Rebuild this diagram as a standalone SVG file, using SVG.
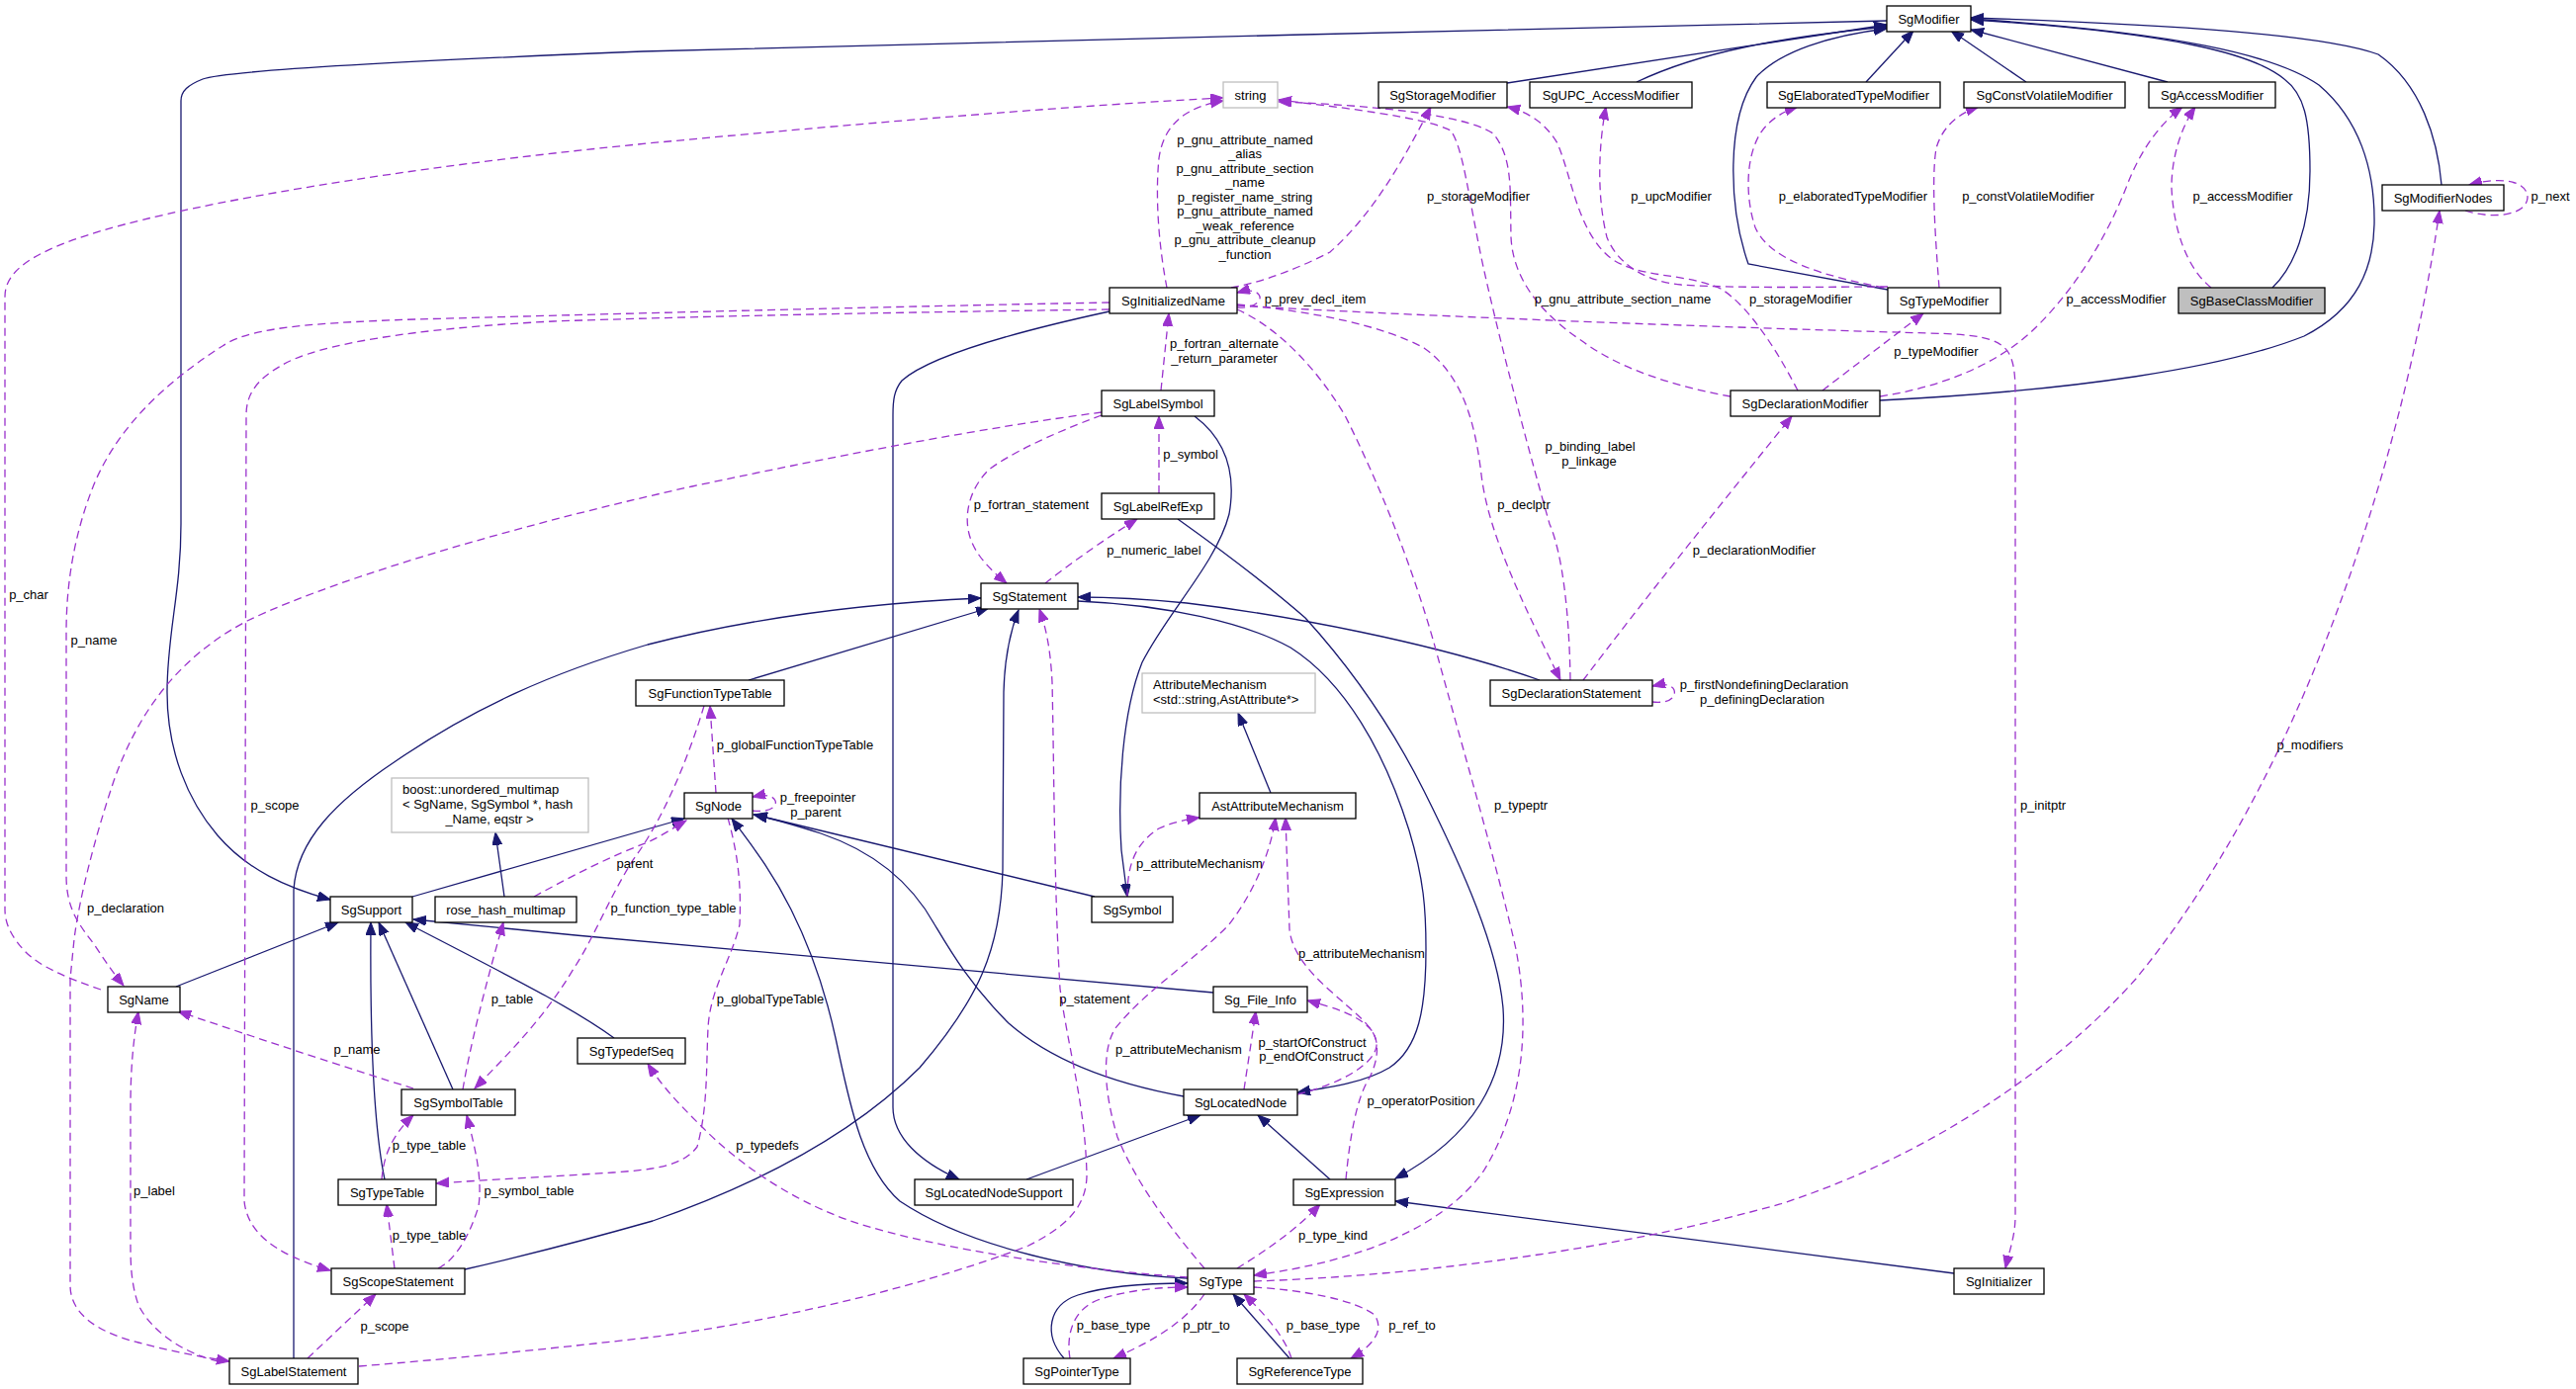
<svg xmlns="http://www.w3.org/2000/svg" width="2605" height="1405" viewBox="0 0 2605 1405">
<style>
text{font-family:"Liberation Sans",Arial,Helvetica,sans-serif;font-size:13px;fill:#000}
.n rect{fill:#fff;stroke:#000;stroke-width:1.3}
.n.g rect{stroke:#bfbfbf}
.n.s rect{fill:#bfbfbf}
.n text{text-anchor:middle}
.n text.lft{text-anchor:start}
.e{fill:none;stroke:#191970;stroke-width:1.3;marker-end:url(#an)}
.m{fill:none;stroke:#9a32cd;stroke-width:1.3;stroke-dasharray:8,5;marker-end:url(#am)}
.lb text{text-anchor:middle}
</style>
<defs>
<marker id="an" markerWidth="14" markerHeight="11" refX="13" refY="5" orient="auto" markerUnits="userSpaceOnUse"><path d="M0,0 L13,5 L0,10 z" fill="#191970" stroke="#191970"/></marker>
<marker id="am" markerWidth="14" markerHeight="11" refX="13" refY="5" orient="auto" markerUnits="userSpaceOnUse"><path d="M0,0 L13,5 L0,10 z" fill="#9a32cd" stroke="#9a32cd"/></marker>
</defs>
<rect width="2605" height="1405" fill="#fff"/>

<g id="connectors">
<!-- inheritance -->
<path class="e" d="M1908,21 C1600,28 900,45 650,52 C450,60 230,70 205,80 C190,86 183,92 183,102 L183,530 C183,600 169,640 169,700 C169,760 190,810 220,845 C250,880 290,898 334,910"/>
<path class="e" d="M1524,84 L1908,25"/>
<path class="e" d="M1655,83 C1720,52 1800,38 1908,27"/>
<path class="e" d="M1909,293 L1768,267 C1748,210 1745,120 1776,78 C1800,52 1850,36 1908,29"/>
<path class="e" d="M1887,83 L1935,31"/>
<path class="e" d="M2049,83 L1973,31"/>
<path class="e" d="M2192,83 L1993,30"/>
<path class="e" d="M2298,291 C2320,270 2336,230 2336,173 C2336,120 2330,95 2310,80 C2280,55 2200,33 1993,20"/>
<path class="e" d="M1901,405 C2100,395 2250,372 2330,340 C2385,312 2400,270 2401,227 C2402,170 2385,120 2345,86 C2300,55 2200,33 1993,19"/>
<path class="e" d="M2469,187 C2465,140 2448,85 2405,55 C2350,35 2200,25 1993,18"/>
<path class="e" d="M178,998 L342,933"/>
<path class="e" d="M458,1102 L383,933"/>
<path class="e" d="M389,1193 C378,1140 374,1050 375,933"/>
<path class="e" d="M621,1050 C580,1020 520,990 410,933"/>
<path class="e" d="M1227,1004 C1000,985 700,958 418,930"/>
<path class="e" d="M417,907 L692,828"/>
<path class="e" d="M510,907 L501,842"/>
<path class="e" d="M757,688 L1000,615"/>
<path class="e" d="M297,1374 L297,900 C300,850 340,810 400,770 C480,715 560,680 655,652 C760,625 880,610 992,605"/>
<path class="e" d="M470,1284 C540,1268 600,1252 660,1235 C760,1200 860,1150 930,1080 C990,1010 1012,960 1014,880 L1015,700 C1016,660 1023,635 1030,617"/>
<path class="e" d="M1557,688 C1450,650 1300,622 1200,610 C1150,605 1120,604 1090,604"/>
<path class="e" d="M1090,608 C1180,612 1260,630 1305,655 C1360,690 1400,760 1425,840 C1440,890 1442,920 1442,960 C1442,1020 1435,1060 1405,1080 C1380,1095 1345,1100 1312,1105"/>
<path class="e" d="M1191,525 C1240,560 1280,590 1320,625 C1370,680 1410,740 1440,800 C1480,880 1515,960 1520,1020 C1525,1090 1490,1150 1411,1192"/>
<path class="e" d="M1122,315 C1030,335 940,360 912,385 C904,395 903,405 903,420 L903,1120 C903,1150 930,1175 970,1193"/>
<path class="e" d="M1038,1193 L1214,1128"/>
<path class="e" d="M1197,1109 C1120,1095 1060,1070 1020,1035 C980,995 960,960 945,935 C920,890 880,860 830,843 C805,835 785,829 762,824"/>
<path class="e" d="M1107,907 L763,824"/>
<path class="e" d="M1201,1293 C1100,1288 980,1262 910,1215 C870,1180 858,1110 845,1050 C832,990 815,950 800,920 C780,880 760,855 740,828"/>
<path class="e" d="M1345,1193 L1272,1128"/>
<path class="e" d="M1976,1288 L1411,1215"/>
<path class="e" d="M1208,421 C1240,445 1250,480 1243,520 C1230,570 1180,620 1155,670 C1135,720 1130,800 1134,860 L1140,907"/>
<path class="e" d="M1285,802 L1252,721"/>
<path class="e" d="M1076,1374 C1055,1350 1060,1320 1090,1310 C1120,1300 1160,1298 1201,1298"/>
<path class="e" d="M1304,1374 L1247,1309"/>

<!-- members -->
<path class="m" d="M102,1001 C70,990 40,978 25,962 C12,948 5,935 5,920 L5,300 C5,275 30,255 104,233 C200,205 400,170 655,145 C900,122 1100,106 1237,99"/>
<path class="m" d="M1122,306 C900,310 600,318 420,323 C300,327 250,333 225,350 C170,385 120,430 95,490 C75,540 67,590 67,640 L67,885 C67,920 80,935 95,955 C105,970 115,985 125,997"/>
<path class="m" d="M1122,313 C900,316 700,320 560,325 C420,332 320,348 284,370 C258,385 249,400 249,420 L247,1215 C250,1245 275,1268 334,1285"/>
<path class="m" d="M1180,291 C1172,250 1168,200 1172,160 C1177,125 1200,108 1237,102"/>
<path class="m" d="M1245,291 C1280,285 1320,268 1345,255 C1390,215 1420,160 1447,108"/>
<path class="m" d="M1251,311 C1268,312 1275,305 1274,300 C1273,295 1265,292 1251,296"/>
<path class="m" d="M1909,290 C1850,290 1760,292 1700,288 C1660,284 1635,265 1625,240 C1615,200 1616,150 1624,108"/>
<path class="m" d="M1818,395 C1800,360 1770,310 1740,292 C1700,275 1660,282 1630,262 C1595,235 1590,180 1575,145 C1560,120 1540,112 1524,108"/>
<path class="m" d="M1905,291 C1850,280 1790,265 1775,230 C1765,200 1765,160 1780,135 C1790,120 1805,112 1818,108"/>
<path class="m" d="M1961,291 C1957,240 1953,180 1958,150 C1965,125 1985,113 2001,108"/>
<path class="m" d="M2236,291 C2210,270 2198,230 2196,190 C2196,160 2205,130 2220,108"/>
<path class="m" d="M1901,401 C1960,392 2020,370 2060,330 C2100,290 2130,240 2150,190 C2165,150 2185,125 2207,108"/>
<path class="m" d="M1843,395 L1945,317"/>
<path class="m" d="M2493,213 C2520,222 2555,218 2556,200 C2556,183 2530,178 2497,187"/>
<path class="m" d="M1268,1296 C1450,1290 1650,1260 1800,1218 C1950,1170 2080,1080 2160,990 C2250,880 2320,740 2370,600 C2420,460 2450,330 2467,213"/>
<path class="m" d="M1251,309 C1400,318 1700,330 1950,337 C2000,338 2020,342 2030,355 C2037,365 2038,380 2038,400 L2038,1230 C2038,1250 2032,1265 2028,1283"/>
<path class="m" d="M1251,313 C1290,330 1330,370 1360,420 C1400,500 1430,580 1450,650 C1480,760 1515,880 1533,960 C1548,1040 1540,1120 1500,1185 C1460,1240 1380,1275 1268,1290"/>
<path class="m" d="M1251,308 C1330,315 1400,330 1440,352 C1480,380 1492,430 1498,480 C1505,540 1540,610 1578,688"/>
<path class="m" d="M1588,688 C1587,620 1580,560 1567,530 C1550,470 1520,360 1500,270 C1485,200 1480,150 1467,132 C1440,118 1350,108 1293,101"/>
<path class="m" d="M1750,401 C1700,392 1640,375 1600,345 C1555,315 1530,280 1528,240 C1527,190 1530,160 1510,135 C1480,115 1380,106 1293,103"/>
<path class="m" d="M1601,688 C1660,610 1740,510 1812,421"/>
<path class="m" d="M1671,710 C1690,712 1695,704 1693,698 C1691,693 1684,691 1671,694"/>
<path class="m" d="M1174,395 L1182,317"/>
<path class="m" d="M1172,499 L1172,421"/>
<path class="m" d="M1114,420 C1060,440 1020,460 1000,475 C980,495 975,520 980,540 C985,560 1000,575 1018,590"/>
<path class="m" d="M1057,590 C1080,572 1110,550 1150,525"/>
<path class="m" d="M724,802 L718,714"/>
<path class="m" d="M761,820 C780,822 786,815 784,810 C782,805 775,803 761,806"/>
<path class="m" d="M540,907 C580,885 620,865 655,852 C670,845 680,838 694,830"/>
<path class="m" d="M712,714 C695,770 670,830 640,870 C615,910 600,950 580,980 C550,1030 515,1065 480,1101"/>
<path class="m" d="M468,1102 C475,1060 490,1000 509,933"/>
<path class="m" d="M418,1101 C350,1080 260,1050 180,1023"/>
<path class="m" d="M386,1193 C388,1170 395,1150 418,1128"/>
<path class="m" d="M443,1283 C460,1275 475,1250 484,1220 C488,1190 480,1160 472,1128"/>
<path class="m" d="M399,1283 L391,1218"/>
<path class="m" d="M311,1374 L380,1309"/>
<path class="m" d="M221,1377 C190,1370 155,1350 140,1320 C133,1300 132,1280 132,1260 L132,1120 C132,1080 135,1050 140,1023"/>
<path class="m" d="M1114,417 C1000,432 860,458 700,492 C550,525 350,580 250,628 C180,665 140,720 115,790 C95,850 80,910 75,950 L71,990 L71,1300 C71,1330 100,1348 140,1358 C170,1366 200,1372 232,1377"/>
<path class="m" d="M736,827 C745,860 750,890 748,935 C740,970 718,1000 716,1040 C714,1080 716,1120 705,1160 C690,1180 660,1183 620,1186 C560,1190 500,1193 441,1197"/>
<path class="m" d="M1201,1292 C1100,1285 950,1265 860,1235 C790,1210 740,1170 710,1140 C690,1120 670,1100 655,1076"/>
<path class="m" d="M363,1382 C450,1375 550,1365 655,1353 C800,1335 950,1295 1040,1260 C1080,1240 1098,1220 1099,1190 C1098,1120 1080,1060 1072,1000 C1066,900 1066,780 1064,690 C1062,650 1056,630 1051,616"/>
<path class="m" d="M1140,907 C1140,880 1145,855 1172,838 C1185,832 1200,829 1213,827"/>
<path class="m" d="M1218,1283 C1190,1250 1150,1200 1130,1150 C1115,1100 1115,1060 1128,1040 C1160,1000 1210,970 1243,935 C1270,900 1285,860 1290,827"/>
<path class="m" d="M1312,1107 C1360,1095 1390,1075 1392,1058 C1393,1040 1370,1025 1345,1002 C1320,980 1306,960 1304,940 L1300,827"/>
<path class="m" d="M1361,1193 C1365,1150 1372,1110 1385,1090 C1395,1070 1395,1050 1385,1040 C1370,1025 1350,1020 1322,1012"/>
<path class="m" d="M1258,1102 L1270,1023"/>
<path class="m" d="M1082,1374 C1078,1350 1085,1325 1110,1315 C1140,1305 1170,1302 1201,1302"/>
<path class="m" d="M1218,1309 C1200,1335 1170,1355 1126,1374"/>
<path class="m" d="M1306,1374 C1300,1355 1285,1335 1258,1309"/>
<path class="m" d="M1268,1302 C1320,1305 1370,1315 1390,1330 C1400,1345 1390,1360 1366,1374"/>
<path class="m" d="M1251,1283 C1280,1265 1310,1245 1335,1218"/>

<g class="lb">
<text x="1259" y="145.5">p_gnu_attribute_named</text>
<text x="1259" y="160">_alias</text>
<text x="1259" y="174.5">p_gnu_attribute_section</text>
<text x="1259" y="189">_name</text>
<text x="1259" y="203.5">p_register_name_string</text>
<text x="1259" y="218">p_gnu_attribute_named</text>
<text x="1259" y="232.5">_weak_reference</text>
<text x="1259" y="247">p_gnu_attribute_cleanup</text>
<text x="1259" y="261.5">_function</text>
<text x="1238" y="352">p_fortran_alternate</text>
<text x="1238" y="367">_return_parameter</text>
<text x="1330" y="307">p_prev_decl_item</text>
<text x="1204" y="464">p_symbol</text>
<text x="1495" y="203">p_storageModifier</text>
<text x="1690" y="203">p_upcModifier</text>
<text x="1874" y="203">p_elaboratedTypeModifier</text>
<text x="2051" y="203">p_constVolatileModifier</text>
<text x="2268" y="203">p_accessModifier</text>
<text x="2579" y="203">p_next</text>
<text x="1641" y="307">p_gnu_attribute_section_name</text>
<text x="1821" y="307">p_storageModifier</text>
<text x="2140" y="307">p_accessModifier</text>
<text x="1958" y="359.5">p_typeModifier</text>
<text x="1608" y="456">p_binding_label</text>
<text x="1607" y="470.5">p_linkage</text>
<text x="1541" y="515">p_declptr</text>
<text x="1774" y="561">p_declarationModifier</text>
<text x="1043" y="515">p_fortran_statement</text>
<text x="1167" y="561">p_numeric_label</text>
<text x="1784" y="697">p_firstNondefiningDeclaration</text>
<text x="1782" y="712">p_definingDeclaration</text>
<text x="804" y="758">p_globalFunctionTypeTable</text>
<text x="827" y="811">p_freepointer</text>
<text x="825" y="825.5">p_parent</text>
<text x="1213" y="878">p_attributeMechanism</text>
<text x="1538" y="818.5">p_typeptr</text>
<text x="2336" y="758">p_modifiers</text>
<text x="2066" y="818.5">p_initptr</text>
<text x="29" y="606">p_char</text>
<text x="95" y="651.5">p_name</text>
<text x="278" y="818.5">p_scope</text>
<text x="127" y="923">p_declaration</text>
<text x="642" y="878">parent</text>
<text x="681" y="923">p_function_type_table</text>
<text x="518" y="1014.5">p_table</text>
<text x="361" y="1066">p_name</text>
<text x="434" y="1163">p_type_table</text>
<text x="156" y="1209">p_label</text>
<text x="535" y="1209">p_symbol_table</text>
<text x="434" y="1254">p_type_table</text>
<text x="389" y="1345.5">p_scope</text>
<text x="779" y="1014.5">p_globalTypeTable</text>
<text x="1107" y="1014.5">p_statement</text>
<text x="1192" y="1066">p_attributeMechanism</text>
<text x="1327" y="1059">p_startOfConstruct</text>
<text x="1326" y="1073">p_endOfConstruct</text>
<text x="776" y="1163">p_typedefs</text>
<text x="1126" y="1345">p_base_type</text>
<text x="1220" y="1345">p_ptr_to</text>
<text x="1377" y="969">p_attributeMechanism</text>
<text x="1437" y="1118">p_operatorPosition</text>
<text x="1348" y="1254">p_type_kind</text>
<text x="1338" y="1345">p_base_type</text>
<text x="1428" y="1345">p_ref_to</text>
</g>
</g>

<g id="SgModifier" class="n"><rect x="1908" y="6" width="85" height="26"/><text x="1950.5" y="23.5">SgModifier</text></g>
<g id="SgStorageModifier" class="n"><rect x="1394" y="83" width="130" height="26"/><text x="1459" y="100.5">SgStorageModifier</text></g>
<g id="SgUPC_AccessModifier" class="n"><rect x="1547" y="83" width="164" height="26"/><text x="1629" y="100.5">SgUPC_AccessModifier</text></g>
<g id="SgElaboratedTypeModifier" class="n"><rect x="1787" y="83" width="175" height="26"/><text x="1874.5" y="100.5">SgElaboratedTypeModifier</text></g>
<g id="SgConstVolatileModifier" class="n"><rect x="1986" y="83" width="163" height="26"/><text x="2067.5" y="100.5">SgConstVolatileModifier</text></g>
<g id="SgAccessModifier" class="n"><rect x="2173" y="83" width="128" height="26"/><text x="2237" y="100.5">SgAccessModifier</text></g>
<g id="string" class="n g"><rect x="1237" y="83" width="55" height="26"/><text x="1264.5" y="100.5">string</text></g>
<g id="SgModifierNodes" class="n"><rect x="2409" y="187" width="123" height="26"/><text x="2470.5" y="204.5">SgModifierNodes</text></g>
<g id="SgInitializedName" class="n"><rect x="1122" y="291" width="129" height="26"/><text x="1186.5" y="308.5">SgInitializedName</text></g>
<g id="SgTypeModifier" class="n"><rect x="1909" y="291" width="114" height="26"/><text x="1966" y="308.5">SgTypeModifier</text></g>
<g id="SgBaseClassModifier" class="n s"><rect x="2203" y="291" width="148" height="26"/><text x="2277" y="308.5">SgBaseClassModifier</text></g>
<g id="SgLabelSymbol" class="n"><rect x="1114" y="395" width="114" height="26"/><text x="1171" y="412.5">SgLabelSymbol</text></g>
<g id="SgDeclarationModifier" class="n"><rect x="1750" y="395" width="151" height="26"/><text x="1825.5" y="412.5">SgDeclarationModifier</text></g>
<g id="SgLabelRefExp" class="n"><rect x="1114" y="499" width="114" height="26"/><text x="1171" y="516.5">SgLabelRefExp</text></g>
<g id="SgStatement" class="n"><rect x="992" y="590" width="98" height="26"/><text x="1041" y="607.5">SgStatement</text></g>
<g id="SgFunctionTypeTable" class="n"><rect x="643" y="688" width="150" height="26"/><text x="718" y="705.5">SgFunctionTypeTable</text></g>
<g id="SgDeclarationStatement" class="n"><rect x="1507" y="688" width="164" height="26"/><text x="1589" y="705.5">SgDeclarationStatement</text></g>
<g id="AttributeMechanism" class="n g"><rect x="1155" y="681" width="175" height="40"/><text class="lft" x="1166" y="697">AttributeMechanism</text><text class="lft" x="1166" y="712">&lt;std::string,AstAttribute*&gt;</text></g>
<g id="SgNode" class="n"><rect x="692" y="802" width="69" height="26"/><text x="726.5" y="819.5">SgNode</text></g>
<g id="AstAttributeMechanism" class="n"><rect x="1213" y="802" width="158" height="26"/><text x="1292" y="819.5">AstAttributeMechanism</text></g>
<g id="boost_unordered_multimap" class="n g"><rect x="396" y="787" width="199" height="55"/><text class="lft" x="407" y="802.8">boost::unordered_multimap</text><text class="lft" x="407" y="817.8">&lt; SgName, SgSymbol *, hash</text><text x="495" y="832.8">_Name, eqstr &gt;</text></g>
<g id="SgSupport" class="n"><rect x="334" y="907" width="83" height="26"/><text x="375.5" y="924.5">SgSupport</text></g>
<g id="rose_hash_multimap" class="n"><rect x="440" y="907" width="143" height="26"/><text x="511.5" y="924.5">rose_hash_multimap</text></g>
<g id="SgSymbol" class="n"><rect x="1104" y="907" width="82" height="26"/><text x="1145" y="924.5">SgSymbol</text></g>
<g id="SgName" class="n"><rect x="109" y="998" width="73" height="26"/><text x="145.5" y="1015.5">SgName</text></g>
<g id="Sg_File_Info" class="n"><rect x="1227" y="998" width="95" height="26"/><text x="1274.5" y="1015.5">Sg_File_Info</text></g>
<g id="SgTypedefSeq" class="n"><rect x="584" y="1050" width="109" height="26"/><text x="638.5" y="1067.5">SgTypedefSeq</text></g>
<g id="SgSymbolTable" class="n"><rect x="406" y="1102" width="115" height="26"/><text x="463.5" y="1119.5">SgSymbolTable</text></g>
<g id="SgLocatedNode" class="n"><rect x="1197" y="1102" width="115" height="26"/><text x="1254.5" y="1119.5">SgLocatedNode</text></g>
<g id="SgTypeTable" class="n"><rect x="342" y="1193" width="99" height="26"/><text x="391.5" y="1210.5">SgTypeTable</text></g>
<g id="SgLocatedNodeSupport" class="n"><rect x="925" y="1193" width="160" height="26"/><text x="1005" y="1210.5">SgLocatedNodeSupport</text></g>
<g id="SgExpression" class="n"><rect x="1308" y="1193" width="103" height="26"/><text x="1359.5" y="1210.5">SgExpression</text></g>
<g id="SgScopeStatement" class="n"><rect x="335" y="1283" width="135" height="26"/><text x="402.5" y="1300.5">SgScopeStatement</text></g>
<g id="SgType" class="n"><rect x="1201" y="1283" width="67" height="26"/><text x="1234.5" y="1300.5">SgType</text></g>
<g id="SgInitializer" class="n"><rect x="1976" y="1283" width="91" height="26"/><text x="2021.5" y="1300.5">SgInitializer</text></g>
<g id="SgLabelStatement" class="n"><rect x="232" y="1374" width="130" height="26"/><text x="297" y="1391.5">SgLabelStatement</text></g>
<g id="SgPointerType" class="n"><rect x="1035" y="1374" width="108" height="26"/><text x="1089" y="1391.5">SgPointerType</text></g>
<g id="SgReferenceType" class="n"><rect x="1251" y="1374" width="127" height="26"/><text x="1314.5" y="1391.5">SgReferenceType</text></g>
</svg>
